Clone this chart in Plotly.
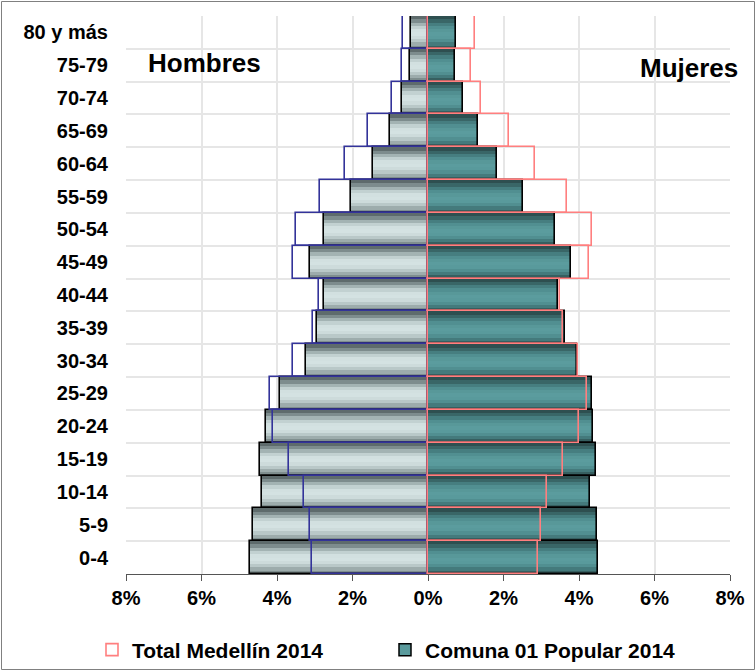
import plotly.graph_objects as go

# ---------------- data ----------------
age_groups = ["0-4", "5-9", "10-14", "15-19", "20-24", "25-29", "30-34", "35-39",
              "40-44", "45-49", "50-54", "55-59", "60-64", "65-69", "70-74", "75-79", "80 y más"]

comuna_hombres = [4.71, 4.64, 4.39, 4.46, 4.29, 3.93, 3.23, 2.93,
                  2.75, 3.13, 2.75, 2.04, 1.45, 1.02, 0.69, 0.49, 0.46]
comuna_mujeres = [4.51, 4.47, 4.30, 4.44, 4.37, 4.34, 3.94, 3.64,
                  3.44, 3.79, 3.36, 2.52, 1.82, 1.32, 0.94, 0.72, 0.74]
total_hombres = [3.06, 3.13, 3.29, 3.67, 4.11, 4.19, 3.58, 3.05,
                 2.88, 3.58, 3.51, 2.86, 2.19, 1.58, 0.96, 0.70, 0.67]
total_mujeres = [2.92, 2.98, 3.15, 3.57, 4.01, 4.22, 3.97, 3.58,
                 3.49, 4.27, 4.35, 3.68, 2.83, 2.15, 1.40, 1.13, 1.25]

tick_vals = [-8, -6, -4, -2, 0, 2, 4, 6, 8]
tick_text = ["8%", "6%", "4%", "2%", "0%", "2%", "4%", "6%", "8%"]

name_total = "Total Medellín 2014"
name_comuna = "Comuna 01 Popular 2014"

FONT = "Liberation Sans, Arial, sans-serif"

# vertical gradient stripes, from the top of each bar downwards
men_stripes = ["#5e6b6c", "#7d8c8d", "#a3b3b3", "#c2d1d1", "#d2e0e0",
               "#d4e2e2", "#cddbdb", "#b9c8c8", "#9dacac", "#7f8e8e"]
women_stripes = ["#2e4f50", "#396667", "#467e80", "#518f91", "#589899",
                 "#5b9c9e", "#599a9c", "#518f91", "#447a7c", "#365f60"]

fig = go.Figure()

neg_comuna_h = [-v for v in comuna_hombres]
neg_total_h = [-v for v in total_hombres]

n = len(men_stripes)
for i in range(n):
    top = i / n                 # fraction from top of the bar
    w = 1.0 - top               # stripe extends to the bar bottom (no seams)
    off = -0.5                  # bar starts at the bottom of the row
    for xs, col in ((neg_comuna_h, men_stripes[i]), (comuna_mujeres, women_stripes[i])):
        fig.add_trace(go.Bar(
            x=xs, y=age_groups, orientation="h", width=w, offset=off,
            marker=dict(color=col, line=dict(width=0)),
            showlegend=False, hoverinfo="skip"))

# black outlines of the Comuna bars
for xs in (neg_comuna_h, comuna_mujeres):
    fig.add_trace(go.Bar(
        x=xs, y=age_groups, orientation="h", width=1.0,
        marker=dict(color="rgba(0,0,0,0)", line=dict(width=1.6, color="black")),
        showlegend=False, hoverinfo="skip"))

# Total Medellín outlines
fig.add_trace(go.Bar(
    x=neg_total_h, y=age_groups, orientation="h", width=1.0,
    marker=dict(color="rgba(0,0,0,0)", line=dict(width=1.6, color="#333399")),
    showlegend=False, hoverinfo="skip"))
fig.add_trace(go.Bar(
    x=total_mujeres, y=age_groups, orientation="h", width=1.0,
    marker=dict(color="rgba(0,0,0,0)", line=dict(width=1.6, color="#ff7f7f")),
    showlegend=False, hoverinfo="skip"))

# legend-only entries
fig.add_trace(go.Bar(
    x=[None], y=[None], orientation="h", name=name_total,
    marker=dict(color="white", line=dict(width=1.6, color="#ff7f7f")),
    showlegend=True))
fig.add_trace(go.Bar(
    x=[None], y=[None], orientation="h", name=name_comuna,
    marker=dict(color="#5a9a9c", line=dict(width=1.5, color="black")),
    showlegend=True))

W, H = 756, 671
ml, mr, mt, mb = 126, 26, 16, 97
pw, ph = W - ml - mr, H - mt - mb

fig.update_layout(
    width=W, height=H,
    barmode="overlay", bargap=0,
    paper_bgcolor="white", plot_bgcolor="white",
    margin=dict(l=ml, r=mr, t=mt, b=mb, autoexpand=False),
    font=dict(family=FONT, size=18, color="black", weight="bold"),
    xaxis=dict(range=[-8, 8], tickvals=tick_vals, ticktext=tick_text,
               showgrid=True, gridcolor="#e6e6e6", gridwidth=1.5,
               zeroline=False, showline=True, linecolor="#555555", linewidth=1,
               ticks="outside", ticklen=6, tickcolor="#555555",
               tickfont=dict(family=FONT, size=20, color="black", weight="bold"),
               fixedrange=True),
    yaxis=dict(type="category", categoryorder="array", categoryarray=age_groups,
               tickson="boundaries", showgrid=True, gridcolor="#e6e6e6", gridwidth=1.5,
               showline=False, ticks="", ticklabelstandoff=17,
               tickfont=dict(family=FONT, size=20, color="black", weight="bold"),
               range=[-0.5, len(age_groups) - 0.5], fixedrange=True),
    legend=dict(orientation="h", x=(92 - ml) / pw, y=(mt + ph - 650) / ph,
                xanchor="left", yanchor="middle",
                font=dict(family=FONT, size=21, color="black", weight="bold"),
                entrywidth=248, entrywidthmode="pixels",
                bgcolor="rgba(0,0,0,0)", traceorder="normal"),
    annotations=[
        dict(text="Hombres", x=-5.93, y="75-79", xref="x", yref="y",
             showarrow=False, font=dict(family=FONT, size=26, weight="bold"), yshift=2),
        dict(text="Mujeres", x=6.91, y="75-79", xref="x", yref="y",
             showarrow=False, font=dict(family=FONT, size=26, weight="bold"), yshift=-3),
    ],
    shapes=[dict(type="rect", xref="paper", yref="paper",
                 x0=(1.5 - ml) / pw, x1=(W - 1.5 - ml) / pw,
                 y0=-(mb - 1.5) / ph, y1=(ph + mt - 1.5) / ph,
                 line=dict(color="#808080", width=1), layer="below")],
)

fig.write_html("out.html", config={"displayModeBar": False},
               post_script="document.body.style.margin='0';document.body.style.padding='0';")
